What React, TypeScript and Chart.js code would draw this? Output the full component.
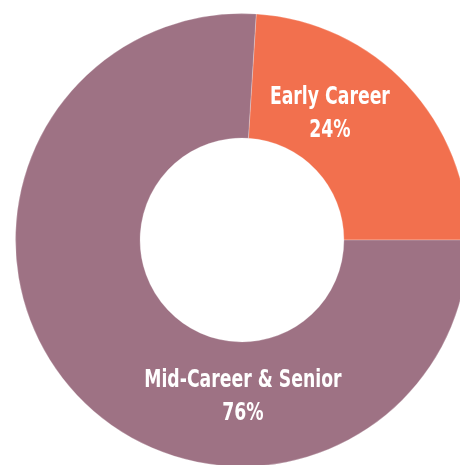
import React, { useEffect, useRef } from "react";
import { Chart, registerables } from "chart.js";

Chart.register(...registerables);

const categories = ["Early Career", "Mid-Career & Senior"];
const values = [24, 76];
const valueLabels = ["24%", "76%"];
const colors = ["#F2704E", "#9E7284"];

export default function App() {
  const ref = useRef<HTMLCanvasElement | null>(null);

  useEffect(() => {
    if (!ref.current) return;
    const labelPlugin = {
      id: "sliceLabels",
      afterDatasetsDraw(chart: any) {
        const meta = chart.getDatasetMeta(0);
        const arc = meta.data[0];
        if (!arc) return;
        const { x: cx, y: cy, outerRadius: r } = arc.getProps(["x", "y", "outerRadius"], true);
        const ctx = chart.ctx;
        const pos = [
          { x: cx + r * 0.388, y: cy - r * 0.63 },
          { x: cx + r * 0.004, y: cy + r * 0.62 },
        ];
        categories.forEach((c, i) => {
          ctx.save();
          ctx.translate(pos[i].x, pos[i].y);
          ctx.scale(0.8, 1);
          ctx.fillStyle = "#ffffff";
          ctx.textAlign = "center";
          ctx.textBaseline = "middle";
          ctx.font = "bold 24px 'DejaVu Sans Condensed', 'DejaVu Sans', sans-serif";
          ctx.fillText(c, 0, 0);
          ctx.fillText(valueLabels[i], 0, 33);
          ctx.restore();
        });
      },
    };
    const chart = new Chart(ref.current, {
      type: "doughnut",
      data: {
        labels: categories,
        datasets: [
          {
            data: values,
            backgroundColor: colors,
            borderWidth: 1,
            borderColor: "rgba(255,255,255,0.25)",
          },
        ],
      },
      options: {
        animation: false,
        responsive: true,
        maintainAspectRatio: false,
        cutout: "45%",
        rotation: 3.6,
        layout: { padding: 0 },
        plugins: { legend: { display: false }, tooltip: { enabled: false } },
      },
      plugins: [labelPlugin],
    });
    return () => chart.destroy();
  }, []);

  return (
    <div style={{ position: "fixed", left: 0, top: 0, width: 460, height: 465, overflow: "hidden", background: "#fff" }}>
      <div style={{ position: "absolute", left: 15, top: 13, width: 454, height: 454 }}>
        <canvas ref={ref} />
      </div>
    </div>
  );
}
